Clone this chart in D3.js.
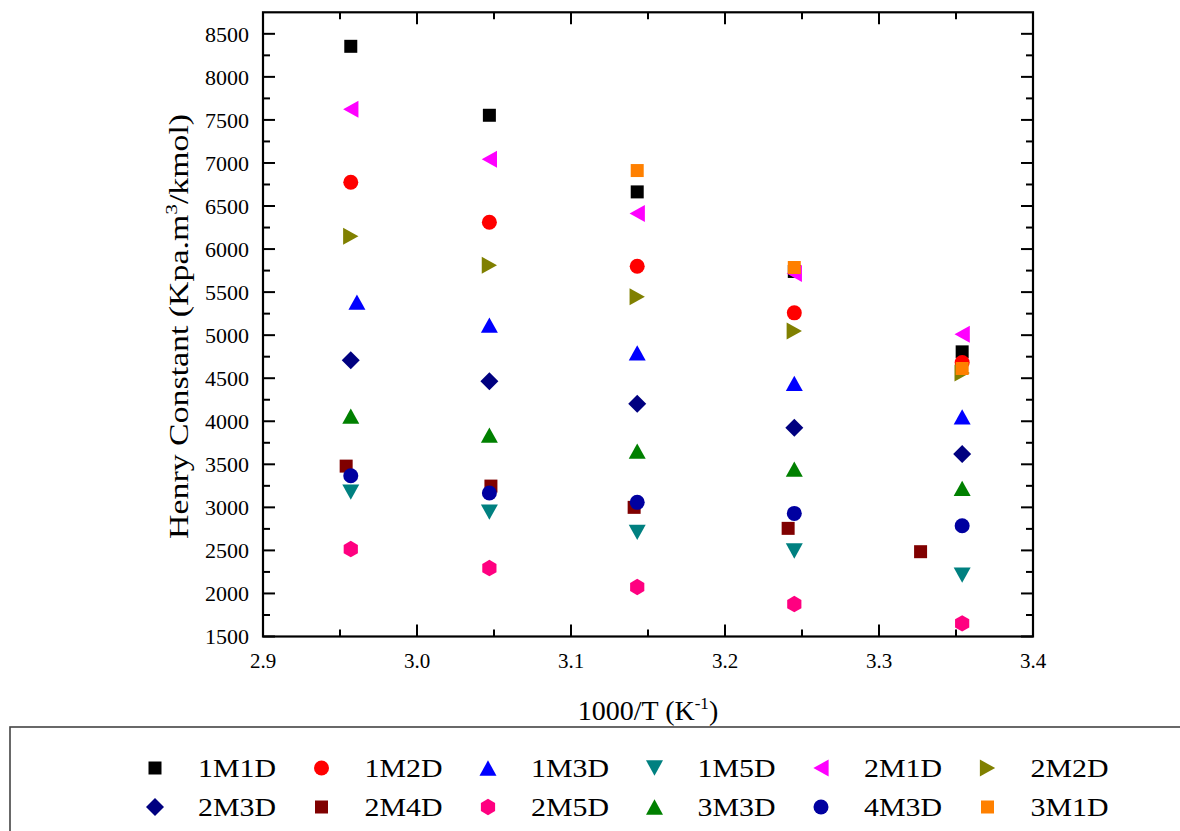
<!DOCTYPE html>
<html>
<head>
<meta charset="utf-8">
<script src="https://cdn.jsdelivr.net/npm/d3@7"></script>
<style>
  html, body { margin: 0; padding: 0; background: #fff; }
  svg { display: block; }
  text { font-family: "Liberation Serif", "Times New Roman", serif; fill: #000; }
</style>
</head>
<body>
<svg id="chart" width="1180" height="831"></svg>
<script>
// ---------- DATA ----------
const categories = ["1M1D", "1M2D", "1M3D", "1M5D", "2M1D", "2M2D",
                    "2M3D", "2M4D", "2M5D", "3M3D", "4M3D", "3M1D"];
const colors = ["#000000", "#FF0000", "#0000FF", "#008080", "#FF00FF", "#808000",
                "#000080", "#800000", "#FF0080", "#008000", "#0000A0", "#FF8000"];
const shapes = ["square", "circle", "triangleUp", "triangleDown", "triangleLeft", "triangleRight",
                "diamond", "square", "hexagon", "triangleUp", "circle", "square"];

const invT = [2.957, 3.047, 3.143, 3.245, 3.354];          // 1000/T (K^-1)
const invT_1M3D = [2.961, 3.047, 3.143, 3.245, 3.354];
const invT_2M4D = [2.954, 3.048, 3.141, 3.241, 3.327];
const invT_3M1D = [3.143, 3.245, 3.354];

const y_1M1D = [8355, 7554, 6664, 5740, 4806];
const y_1M2D = [6776, 6312, 5801, 5259, 4683];
const y_1M3D = [5383, 5116, 4795, 4439, 4052];
const y_1M5D = [3177, 2945, 2710, 2493, 2214];
const y_2M1D = [7624, 7043, 6413, 5715, 5012];
const y_2M2D = [6149, 5813, 5445, 5047, 4560];
const y_2M3D = [4710, 4466, 4203, 3924, 3619];
const y_2M4D = [3479, 3247, 3000, 2756, 2485];
const y_2M5D = [2516, 2295, 2075, 1877, 1653];
const y_3M3D = [4060, 3839, 3653, 3445, 3220];
const y_4M3D = [3367, 3166, 3058, 2930, 2786];
const y_3M1D = [6912, 5786, 4613];

const xTicks = [2.9, 3.0, 3.1, 3.2, 3.3, 3.4];
const yTicks = [1500, 2000, 2500, 3000, 3500, 4000, 4500, 5000, 5500, 6000, 6500, 7000, 7500, 8000, 8500];

const seriesX = [invT, invT, invT_1M3D, invT, invT, invT, invT, invT_2M4D, invT, invT, invT, invT_3M1D];
const seriesY = [y_1M1D, y_1M2D, y_1M3D, y_1M5D, y_2M1D, y_2M2D, y_2M3D, y_2M4D, y_2M5D, y_3M3D, y_4M3D, y_3M1D];

// ---------- SETUP ----------
const svg = d3.select("#chart");
const L = 263, R = 1033, T = 12.3, B = 636.5;
const x = d3.scaleLinear().domain([2.9, 3.4]).range([L, R]);
const y = d3.scaleLinear().domain([1500, 8750]).range([B, T]);

// ---------- custom symbols (size = r^2) ----------
function tri(dir) {
  return { draw(ctx, size) {
    const r = Math.sqrt(size);           // half of base
    const h = r * 0.9;                   // half of height
    if (dir === "up")    { ctx.moveTo(0, -h); ctx.lineTo(r, h); ctx.lineTo(-r, h); }
    if (dir === "down")  { ctx.moveTo(0, h); ctx.lineTo(r, -h); ctx.lineTo(-r, -h); }
    if (dir === "left")  { ctx.moveTo(-h, 0); ctx.lineTo(h, -r); ctx.lineTo(h, r); }
    if (dir === "right") { ctx.moveTo(h, 0); ctx.lineTo(-h, -r); ctx.lineTo(-h, r); }
    ctx.closePath();
  }};
}
const symSquare = { draw(ctx, size) { const r = Math.sqrt(size); ctx.rect(-r, -r, 2 * r, 2 * r); } };
const symCircle = { draw(ctx, size) { const r = Math.sqrt(size); ctx.moveTo(r, 0); ctx.arc(0, 0, r, 0, 2 * Math.PI); } };
const symDiamond = { draw(ctx, size) { const r = Math.sqrt(size); ctx.moveTo(0, -r); ctx.lineTo(r, 0); ctx.lineTo(0, r); ctx.lineTo(-r, 0); ctx.closePath(); } };
const symHex = { draw(ctx, size) {
  const r = Math.sqrt(size);
  for (let i = 0; i < 6; i++) {
    const a = Math.PI / 2 + i * Math.PI / 3;
    const px = r * Math.cos(a), py = r * Math.sin(a);
    if (i === 0) ctx.moveTo(px, py); else ctx.lineTo(px, py);
  }
  ctx.closePath();
}};
const symTypes = {
  square: [symSquare, 6.5], circle: [symCircle, 7.5], diamond: [symDiamond, 9],
  hexagon: [symHex, 8.2],
  triangleUp: [tri("up"), 8.5], triangleDown: [tri("down"), 8.5],
  triangleLeft: [tri("left"), 8.5], triangleRight: [tri("right"), 8.5]
};
function symPath(shape) {
  const [t, r] = symTypes[shape];
  return d3.symbol().type(t).size(r * r)();
}

// ---------- AXES ----------
const yMinor = d3.range(1750, 8750, 500);
const xMinor = [2.95, 3.05, 3.15, 3.25, 3.35];
const axG = svg.append("g").attr("stroke", "#000");

function drawTicks(vals, scale, orient, len) {
  vals.forEach(v => {
    const p = scale(v);
    if (orient === "left")   axG.append("line").attr("x1", L).attr("x2", L + len).attr("y1", p).attr("y2", p);
    if (orient === "right")  axG.append("line").attr("x1", R).attr("x2", R - len).attr("y1", p).attr("y2", p);
    if (orient === "bottom") axG.append("line").attr("y1", B).attr("y2", B - len).attr("x1", p).attr("x2", p);
    if (orient === "top")    axG.append("line").attr("y1", T).attr("y2", T + len).attr("x1", p).attr("x2", p);
  });
}
axG.attr("stroke-width", 2);
drawTicks(yTicks, y, "left", 12); drawTicks(yMinor, y, "left", 7);
drawTicks(yTicks, y, "right", 12); drawTicks(yMinor, y, "right", 7);
drawTicks(xTicks, x, "bottom", 12); drawTicks(xMinor, x, "bottom", 7);
drawTicks(xTicks, x, "top", 12); drawTicks(xMinor, x, "top", 7);
svg.append("rect").attr("x", L).attr("y", T).attr("width", R - L).attr("height", B - T)
  .attr("fill", "none").attr("stroke", "#000").attr("stroke-width", 2.2);

// tick labels
svg.append("g").selectAll("text").data(yTicks).join("text")
  .attr("x", L - 14).attr("y", d => y(d)).attr("dy", "0.35em")
  .attr("text-anchor", "end").attr("font-size", 22).text(d => d);
svg.append("g").selectAll("text").data(xTicks).join("text")
  .attr("x", d => x(d)).attr("y", 668).attr("text-anchor", "middle")
  .attr("font-size", 21).text(d => d3.format(".1f")(d));

// axis titles
const xt = svg.append("text").attr("x", (L + R) / 2).attr("y", 720)
  .attr("text-anchor", "middle").attr("font-size", 28);
xt.append("tspan").text("1000/T (K");
xt.append("tspan").attr("dy", -11).attr("font-size", 17).text("-1");
xt.append("tspan").attr("dy", 11).text(")");

const yt = svg.append("text")
  .attr("transform", `translate(${188},${(T + B) / 2 + 2}) rotate(-90)`)
  .attr("text-anchor", "middle").attr("font-size", 27)
  .attr("textLength", 425).attr("lengthAdjust", "spacingAndGlyphs");
yt.append("tspan").text("Henry Constant (Kpa.m");
yt.append("tspan").attr("dy", -11).attr("font-size", 17).text("3");
yt.append("tspan").attr("dy", 11).text("/kmol)");

// ---------- POINTS ----------
const ptsG = svg.append("g");
categories.forEach((c, i) => {
  const pts = seriesY[i].map((v, j) => [seriesX[i][j], v]);
  ptsG.append("g").selectAll("path").data(pts).join("path")
    .attr("d", symPath(shapes[i]))
    .attr("transform", d => `translate(${x(d[0])},${y(d[1])})`)
    .attr("fill", colors[i]);
});

// ---------- LEGEND ----------
svg.append("rect").attr("x", 10).attr("y", 727).attr("width", 1200).attr("height", 130)
  .attr("fill", "none").attr("stroke", "#444").attr("stroke-width", 1.6);
const lg = svg.append("g");
categories.forEach((c, i) => {
  const col = i % 6, row = Math.floor(i / 6);
  const mx = 155 + 166.5 * col, my = row === 0 ? 768 : 807;
  lg.append("path").attr("d", symPath(shapes[i])).attr("transform", `translate(${mx},${my})`).attr("fill", colors[i]);
  lg.append("text").attr("x", mx + 43).attr("y", row === 0 ? 777 : 816)
    .attr("font-size", 25).attr("textLength", 78).attr("lengthAdjust", "spacingAndGlyphs").text(c);
});
</script>
</body>
</html>
